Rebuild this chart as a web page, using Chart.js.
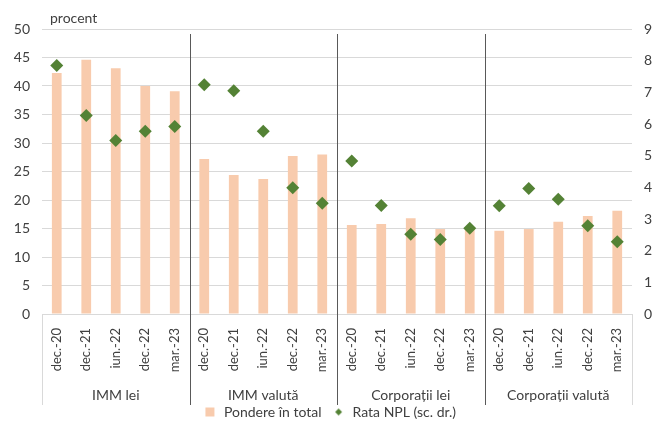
<!DOCTYPE html>
<html>
<head>
<meta charset="utf-8">
<title>Pondere în total și rata NPL</title>
<style>
  html, body { margin: 0; padding: 0; background: #fff; }
  #wrap { width: 659px; height: 421px; }
</style>
<script src="https://cdn.jsdelivr.net/npm/chart.js@4.4.0/dist/chart.umd.min.js"></script>
</head>
<body>
<div id="wrap"><canvas id="chart"></canvas></div>
<script>
  // categories
  var periods = ['dec.-20', 'dec.-21', 'iun.-22', 'dec.-22', 'mar.-23'];
  var groups = ['IMM lei', 'IMM valută', 'Corporații lei', 'Corporații valută'];

  // Pondere in total (left axis, procent)
  var pondere = [42.3, 44.6, 43.1, 40.0, 39.1,
                 27.2, 24.4, 23.7, 27.7, 28.0,
                 15.6, 15.8, 16.8, 14.9, 15.0,
                 14.6, 14.9, 16.2, 17.2, 18.1];
  // Rata NPL (right axis)
  var rataNPL = [7.85, 6.27, 5.48, 5.77, 5.92,
                 7.24, 7.05, 5.77, 3.99, 3.50,
                 4.83, 3.43, 2.52, 2.35, 2.71,
                 3.42, 3.96, 3.62, 2.79, 2.28];

  // axis ranges
  var leftAxis = { min: 0, max: 50, step: 5 };
  var rightAxis = { min: 0, max: 9, step: 1 };

  var seriesNames = ['Pondere în total', 'Rata NPL (sc. dr.)'];

  var barColor = '#f8cbad';
  var npLColor = '#548235';
  var textColor = '#404040';
  var gridColor = '#d9d9d9';
  var fontFamily = 'Lato, "Open Sans", sans-serif';

  // one label per bar: period repeated for each group
  var labels = [];
  groups.forEach(function () {
    periods.forEach(function (p) { labels.push(p); });
  });

  // small legend markers
  function makeMarker(type) {
    var c = document.createElement('canvas');
    c.width = 11; c.height = 11;
    var g = c.getContext('2d');
    if (type === 'square') {
      g.fillStyle = barColor;
      g.fillRect(1, 1, 9, 9);
    } else {
      g.fillStyle = npLColor;
      g.beginPath();
      g.moveTo(5.5, 2); g.lineTo(9, 5.5); g.lineTo(5.5, 9); g.lineTo(2, 5.5);
      g.closePath(); g.fill();
    }
    return c;
  }
  var markers = [makeMarker('square'), makeMarker('diamond')];

  // group labels, separators and the "procent" caption
  var groupPlugin = {
    id: 'groupPlugin',
    afterLayout: function (chart) {
      // push the legend row a bit lower, as in the original
      if (chart.legend) { chart.legend.top += 8; chart.legend.bottom += 8; }
    },
    afterDraw: function (chart) {
      var ctx = chart.ctx, x = chart.scales.x, area = chart.chartArea;
      var n = periods.length;
      var edges = [];
      for (var g = 0; g <= groups.length; g++) {
        if (g === 0) edges.push(area.left);
        else if (g === groups.length) edges.push(area.right);
        else edges.push((x.getPixelForValue(g * n - 1) + x.getPixelForValue(g * n)) / 2);
      }
      ctx.save();
      ctx.lineWidth = 1;
      // frame of the category area
      ctx.strokeStyle = gridColor;
      edges.forEach(function (e) {
        var px = Math.round(e) + 0.5;
        ctx.beginPath();
        ctx.moveTo(px, area.bottom);
        ctx.lineTo(px, area.bottom + 91);
        ctx.stroke();
      });
      // dark separators inside the plot
      ctx.strokeStyle = '#595959';
      for (var i = 1; i < edges.length - 1; i++) {
        var px = Math.round(edges[i]) + 0.5;
        ctx.beginPath();
        ctx.moveTo(px, area.top + 5);
        ctx.lineTo(px, area.bottom + 91);
        ctx.stroke();
      }
      // group names
      ctx.fillStyle = textColor;
      ctx.font = '14px ' + fontFamily;
      ctx.textAlign = 'center';
      ctx.textBaseline = 'middle';
      groups.forEach(function (name, k) {
        ctx.fillText(name, (edges[k] + edges[k + 1]) / 2, area.bottom + 81);
      });
      // unit caption
      ctx.textAlign = 'left';
      ctx.fillText('procent', area.left + 8, area.top - 11);
      ctx.restore();
    }
  };

  var ctx = document.getElementById('chart').getContext('2d');
  var chart = new Chart(ctx, {
    type: 'bar',
    data: {
      labels: labels,
      datasets: [{
        label: seriesNames[0],
        data: pondere,
        backgroundColor: barColor,
        yAxisID: 'y',
        barPercentage: 0.33,
        categoryPercentage: 1,
        order: 2
      }, {
        type: 'line',
        label: seriesNames[1],
        data: rataNPL,
        yAxisID: 'y1',
        showLine: false,
        pointStyle: 'rectRot',
        pointRadius: 6.5,
        pointBackgroundColor: npLColor,
        pointBorderWidth: 0,
        order: 1
      }]
    },
    options: {
      responsive: true,
      maintainAspectRatio: false,
      animation: false,
      layout: { padding: { top: 29, left: 0, right: 0, bottom: 0 } },
      plugins: {
        tooltip: { enabled: false },
        legend: {
          position: 'bottom',
          labels: {
            color: textColor,
            font: { family: fontFamily, size: 14 },
            usePointStyle: true,
            boxHeight: 11,
            padding: 10,
            generateLabels: function (chart) {
              var items = Chart.defaults.plugins.legend.labels.generateLabels(chart);
              items.sort(function (a, b) { return a.datasetIndex - b.datasetIndex; });
              items.forEach(function (it) { it.pointStyle = markers[it.datasetIndex]; });
              return items;
            }
          }
        }
      },
      scales: {
        x: {
          ticks: {
            color: textColor,
            font: { family: fontFamily, size: 13 },
            minRotation: 90,
            maxRotation: 90,
            autoSkip: false,
            padding: 6
          },
          grid: { display: false },
          border: { color: gridColor },
          afterFit: function (s) { s.height = 73; }
        },
        y: {
          position: 'left',
          min: leftAxis.min,
          max: leftAxis.max,
          ticks: {
            stepSize: leftAxis.step,
            color: textColor,
            font: { family: fontFamily, size: 14 },
            padding: 12
          },
          grid: { color: gridColor, drawTicks: false },
          border: { display: false },
          afterFit: function (s) { s.width = 42; }
        },
        y1: {
          position: 'right',
          min: rightAxis.min,
          max: rightAxis.max,
          ticks: {
            stepSize: rightAxis.step,
            color: textColor,
            font: { family: fontFamily, size: 14 },
            padding: 12
          },
          grid: { drawOnChartArea: false, drawTicks: false },
          border: { display: false },
          afterFit: function (s) { s.width = 27; }
        }
      }
    },
    plugins: [groupPlugin]
  });
</script>
</body>
</html>
